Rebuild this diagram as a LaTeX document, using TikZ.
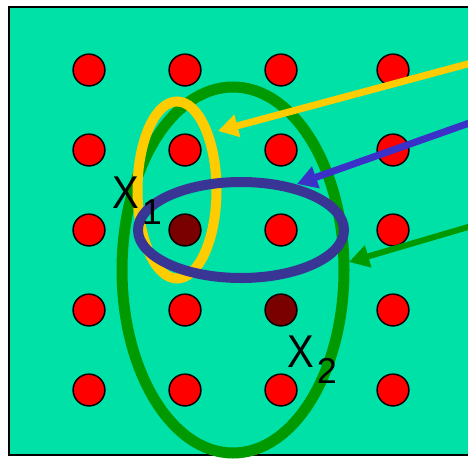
\documentclass[tikz,border=0pt]{standalone}
\usepackage{fontspec}
\setmainfont{Liberation Sans}
\usetikzlibrary{arrows.meta,shapes.geometric}
\definecolor{bg}{HTML}{00E1A8}
\definecolor{dotred}{HTML}{FF0000}
\definecolor{darkdot}{HTML}{7A0000}
\definecolor{ggreen}{HTML}{009900}
\definecolor{yyellow}{HTML}{FFCC00}
\definecolor{eblue}{HTML}{393594}
\definecolor{ablue}{HTML}{3B30C8}
\newcommand{\varlabel}[1]{\scalebox{0.87}[1]{X}\hspace{3pt}\raisebox{-16.5pt}{\fontsize{36pt}{36pt}\selectfont #1}}
\begin{document}
\begin{tikzpicture}[x=1pt,y=-1pt,
  dot/.style={circle,draw=black,line width=1.5pt,fill=dotred,minimum size=31.8pt,inner sep=0pt},
  ring/.style={ellipse,inner sep=0pt,line width=10pt},
  lbl/.style={anchor=base west,inner sep=0pt,font=\fontsize{46pt}{46pt}\selectfont},
  pointer/.style={line width=7pt,-{Triangle[length=20pt,width=22pt]}}]
\useasboundingbox (0,0) rectangle (468,458);
\filldraw[fill=bg,draw=black,line width=2pt] (9,7) rectangle (490,455);
\foreach \x/\c in {89/1,185/2,281/3,393/4}{
  \foreach \y/\r in {70/1,150/2,230/3,310/4,390/5}{
    \def\fc{dotred}
    \ifnum\r\c=32 \def\fc{darkdot}\fi
    \ifnum\r\c=43 \def\fc{darkdot}\fi
    \node[dot,fill=\fc] (d\r\c) at (\x,\y) {};
  }
}
\node[ring,draw=ggreen,line width=11pt,minimum width=222pt,minimum height=366pt] (G) at (233,270) {};
\node[ring,draw=yyellow,minimum width=79pt,minimum height=177pt] (Y) at (177,190) {};
\node[ring,draw=eblue,minimum width=206pt,minimum height=96pt] (B) at (241,230) {};
\node[lbl] (x1) at (112,208) {\varlabel{1}};
\node[lbl] (x2) at (287,367) {\varlabel{2}};
\coordinate (ys) at (475,62);
\coordinate (yt) at (218,131);
\coordinate (bs) at (475,121);
\coordinate (bt) at (297,184);
\coordinate (gs) at (475,225);
\coordinate (gt) at (349,262);
\draw[pointer,draw=yyellow,fill=yyellow] (ys) -- (yt);
\draw[pointer,draw=ablue,fill=ablue] (bs) -- (bt);
\draw[pointer,line width=6pt,draw=ggreen,fill=ggreen] (gs) -- (gt);
\end{tikzpicture}
\end{document}
